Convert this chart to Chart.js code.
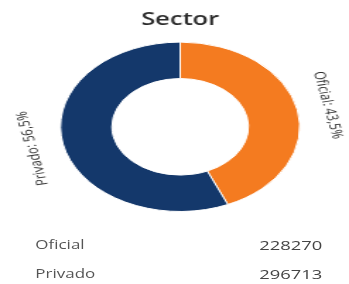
<!DOCTYPE html>
<html>
<head>
<meta charset="utf-8">
<script src="https://cdn.jsdelivr.net/npm/chart.js@4"></script>
<style>
  html, body { margin: 0; padding: 0; background: #ffffff; }
  #stage {
    position: absolute; left: 0; top: 0;
    width: 247px; height: 284px;
    transform: scaleX(1.413); transform-origin: 0 0;
    font-family: "Open Sans", sans-serif;
  }
  #wrap { position: absolute; left: 0; top: 0; width: 247px; height: 222px; }
  .row { position: absolute; left: 25px; width: 203px; height: 16px; line-height: 16px; }
  .row .lab { position: absolute; left: 0; font-size: 12px; color: #555; }
  .row .val { position: absolute; right: 0; font-size: 13px; color: #444; }
</style>
</head>
<body>
<div id="stage">
  <div id="wrap"><canvas id="sectorChart" width="247" height="222"></canvas></div>
  <div class="row" id="row0" style="top:237px"><span class="lab"></span><span class="val"></span></div>
  <div class="row" id="row1" style="top:266px"><span class="lab"></span><span class="val"></span></div>
</div>
<script>
const categories = ["Oficial", "Privado"];
const values = [228270, 296713];
const colors = ["#f47b20", "#14386b"];

document.addEventListener("DOMContentLoaded", () => {
    const total = values.reduce((a, b) => a + b, 0);
    const pct = v => (v / total * 100).toFixed(1).replace(".", ",") + "%";

    // tabla de abajo
    categories.forEach((c, i) => {
        const row = document.getElementById("row" + i);
        row.querySelector(".lab").textContent = c;
        row.querySelector(".val").textContent = values[i];
    });

    // etiquetas giradas fuera del anillo
    const sliceLabels = {
        id: "sliceLabels",
        afterDatasetsDraw(chart) {
            const ctx = chart.ctx;
            const meta = chart.getDatasetMeta(0);
            meta.data.forEach((arc, i) => {
                const mid = (arc.startAngle + arc.endAngle) / 2;
                const r = arc.outerRadius + 22;
                const x = arc.x + r * Math.cos(mid);
                const y = arc.y + r * Math.sin(mid);
                ctx.save();
                ctx.translate(x, y);
                ctx.rotate(mid + Math.PI / 2);
                ctx.font = "11px 'Open Sans'";
                ctx.fillStyle = "#2f2f2f";
                ctx.textAlign = "center";
                ctx.textBaseline = "middle";
                ctx.fillText(categories[i] + ": " + pct(values[i]), 0, 0);
                ctx.restore();
            });
        }
    };

    new Chart(document.getElementById("sectorChart"), {
        type: "doughnut",
        data: {
            labels: categories,
            datasets: [{
                data: values,
                backgroundColor: colors,
                borderColor: "#ffffff",
                borderWidth: 1
            }]
        },
        options: {
            responsive: false,
            animation: false,
            cutout: "57%",
            layout: { padding: { left: 8, right: 0, top: 0, bottom: 10 } },
            plugins: {
                legend: { display: false },
                tooltip: { enabled: false },
                title: {
                    display: true,
                    text: "Sector",
                    color: "#2b2b2b",
                    font: { family: "'Open Sans'", size: 18, weight: "600" },
                    padding: { top: 9, bottom: 11 }
                }
            }
        },
        plugins: [sliceLabels]
    });
});
</script>
</body>
</html>
